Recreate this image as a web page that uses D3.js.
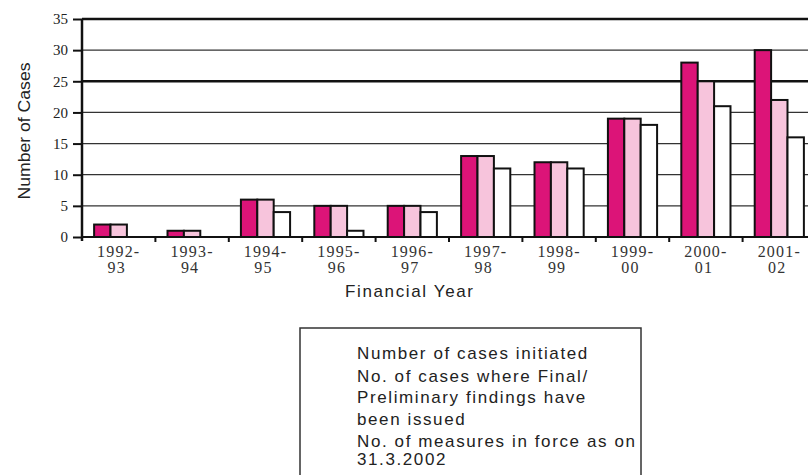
<!DOCTYPE html>
<html><head><meta charset="utf-8">
<script src="https://cdn.jsdelivr.net/npm/d3@7"></script>
<style>body{margin:0;background:#fff}svg{display:block}</style>
</head><body><svg id="c" width="808" height="475"></svg>
<script>
const categories = [["1992-","93"],["1993-","94"],["1994-","95"],["1995-","96"],["1996-","97"],["1997-","98"],["1998-","99"],["1999-","00"],["2000-","01"],["2001-","02"]];
const initiated = [2,1,6,5,5,13,12,19,28,30];
const findings  = [2,1,6,5,5,13,12,19,25,22];
const measures  = [0,0,4,1,4,11,11,18,21,16];
const yTicks = [0,5,10,15,20,25,30,35];
const seriesNames = ["Number of cases initiated","No. of cases where Final/","Preliminary findings have","been issued","No. of measures in force as on","31.3.2002"];
const colors = ["#dc1478","#f7c4dc","#ffffff"];

(function(){
const svg = d3.select("#c");
const pLeft = 82, pRight = 816, pTop = 19, pBottom = 237;
const x = d3.scaleBand().domain(d3.range(categories.length)).range([pLeft,pRight]).paddingInner(0.33).paddingOuter(0.165);
const step = x.step();
const xs = d3.scaleBand().domain([0,1,2]).range([0,x.bandwidth()]);
const y = d3.scaleLinear().domain([0,35]).range([pBottom,pTop]);

// gridlines
svg.append("g").selectAll("line").data(yTicks.filter(d=>d>0)).join("line")
  .attr("x1",pLeft).attr("x2",808).attr("y1",d=>y(d)).attr("y2",d=>y(d))
  .attr("stroke",d=>(d===35||d===25)?"#111":"#333").attr("stroke-width",d=>(d===35||d===25)?2.5:1.3);

// bars
const data = [initiated,findings,measures];
const g = svg.append("g");
categories.forEach((c,i)=>{
  data.forEach((s,j)=>{
    const v = s[i];
    if(v<=0) return;
    g.append("rect").attr("x",x(i)+xs(j)).attr("y",y(v)).attr("width",xs.bandwidth()).attr("height",y(0)-y(v))
      .attr("fill",colors[j]).attr("stroke","#111").attr("stroke-width",2);
  });
});

// y axis
const yAxis = d3.axisLeft(y).tickValues(yTicks).tickSize(9).tickSizeOuter(0).tickFormat(d3.format("d"));
const ya = svg.append("g").attr("transform",`translate(${pLeft},0)`).call(yAxis);
ya.select(".domain").attr("stroke","#111").attr("stroke-width",2.5).attr("d",`M0,${pTop}V${pBottom+4}`);
ya.selectAll(".tick line").attr("stroke","#111").attr("stroke-width",2);
ya.selectAll(".tick text").attr("x",-14).attr("font-family","Liberation Serif, serif").attr("font-size",15)
  .attr("fill","#222");

// x axis baseline and ticks
svg.append("line").attr("x1",pLeft).attr("x2",808).attr("y1",pBottom).attr("y2",pBottom).attr("stroke","#111").attr("stroke-width",2);
svg.append("g").selectAll("line").data(d3.range(1,categories.length)).join("line")
  .attr("x1",d=>pLeft+step*d).attr("x2",d=>pLeft+step*d).attr("y1",pBottom).attr("y2",pBottom+5)
  .attr("stroke","#111").attr("stroke-width",2);
const lab = svg.append("g").attr("font-family","Liberation Serif, serif").attr("font-size",16).attr("fill","#333").attr("text-anchor","middle");
categories.forEach((c,i)=>{
  const cx = x(i)+x.bandwidth()/2;
  lab.append("text").attr("x",cx).attr("y",pBottom+20).attr("letter-spacing",1.2).text(c[0]);
  lab.append("text").attr("x",cx-2).attr("y",pBottom+36).attr("letter-spacing",1.2).text(c[1]);
});

// axis titles
svg.append("text").attr("transform","translate(30,131) rotate(-90)").attr("text-anchor","middle")
  .attr("font-family","Liberation Sans, sans-serif").attr("font-size",16).attr("fill","#222")
  .attr("textLength",137).attr("lengthAdjust","spacingAndGlyphs").text("Number of Cases");
svg.append("text").attr("x",345).attr("y",297)
  .attr("font-family","Liberation Sans, Arial, sans-serif").attr("font-size",17).attr("fill","#222")
  .attr("textLength",128).attr("lengthAdjust","spacing").text("Financial Year");

// legend box
svg.append("rect").attr("x",300).attr("y",328).attr("width",341).attr("height",160).attr("fill","none").attr("stroke","#333").attr("stroke-width",1.5);
const ly = [359,382,403,425,447,465];
svg.append("g").selectAll("text").data(seriesNames).join("text")
  .attr("x",357).attr("y",(d,i)=>ly[i]).attr("font-family","Liberation Sans, Arial, sans-serif").attr("font-size",17).attr("fill","#222")
  .attr("letter-spacing",1.6).text(d=>d);
})();
</script></body></html>
